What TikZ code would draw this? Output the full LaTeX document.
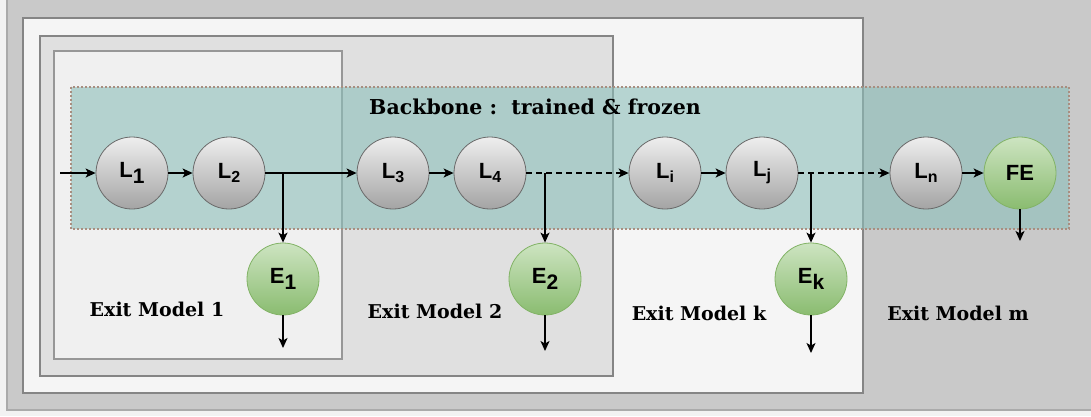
\documentclass[tikz,border=0pt]{standalone}
\usepackage{fontspec}
\setmainfont{DejaVu Serif}
\newfontfamily\circfont{Liberation Sans}
\usetikzlibrary{arrows.meta}

\definecolor{pagebg}{HTML}{F2F2F2}
\definecolor{mfill}{HTML}{C9C9C9}
\definecolor{kfill}{HTML}{F5F5F5}
\definecolor{twofill}{HTML}{E0E0E0}
\definecolor{onefill}{HTML}{F0F0F0}
\definecolor{boxline}{HTML}{858585}
\definecolor{bbfill}{RGB}{140,191,186}
\definecolor{bbline}{HTML}{A88E80}
\definecolor{greytop}{HTML}{EEEEEE}
\definecolor{greybot}{HTML}{A4A4A4}
\definecolor{greyline}{HTML}{6A6A6A}
\definecolor{greentop}{HTML}{CDE4C1}
\definecolor{greenbot}{HTML}{8ABC70}
\definecolor{greenline}{HTML}{82B366}

\tikzset{
  modelbox/.style={draw=boxline, line width=1.2pt},
  layer/.style={circle, minimum size=72pt, inner sep=0pt, draw=greyline,
    line width=0.8pt, top color=greytop, bottom color=greybot,
    font=\circfont\bfseries\fontsize{22}{22}\selectfont},
  exitnode/.style={layer, draw=greenline, top color=greentop, bottom color=greenbot},
  flow/.style={line width=1.4pt, -{Stealth[length=10pt,width=9pt,inset=2.5pt]}},
  dashedflow/.style={flow, dash pattern=on 6pt off 4pt},
  modeltext/.style={font=\bfseries\fontsize{19}{19}\selectfont, inner sep=0pt},
  titletext/.style={font=\bfseries\fontsize{20.5}{20.5}\selectfont, inner sep=0pt}
}

% subscripts: a large one and a small one
\newcommand{\bigsub}[1]{\raisebox{-6pt}{\fontsize{21}{21}\selectfont #1}}
\newcommand{\smallsub}[1]{\raisebox{-4pt}{\fontsize{16}{16}\selectfont #1}}

\begin{document}
\begin{tikzpicture}[x=1pt, y=-1pt]
\useasboundingbox (0,0) rectangle (1091,416);
\fill[pagebg] (0,0) rectangle (1091,416);

% nested exit-model frames
\filldraw[mfill, draw=boxline!70, line width=1.2pt] (7,-5) rectangle (1100,410);
\filldraw[kfill, modelbox] (23,18) rectangle (863,393);
\filldraw[twofill, modelbox] (40,36) rectangle (613,376);
\filldraw[onefill, modelbox, draw=boxline!85] (54,51) rectangle (342,359);

% backbone band
\fill[bbfill, fill opacity=0.6] (71,87) rectangle (1069,229);
\draw[bbline, line width=2pt, dash pattern=on 2pt off 2pt] (71,87) rectangle (1069,229);

\node[titletext] (bbtitle) at (535,107) {Backbone :\ \ trained \& frozen};

% layers
\node[layer] (L1) at (132,173) {L\bigsub{1}};
\node[layer] (L2) at (229,173) {L\smallsub{2}};
\node[layer] (L3) at (393,173) {L\smallsub{3}};
\node[layer] (L4) at (490,173) {L\smallsub{4}};
\node[layer] (Li) at (665,173) {L\smallsub{i}};
\node[layer] (Lj) at (762,173) {L\smallsub{j}};
\node[layer] (Ln) at (926,173) {L\smallsub{n}};
\node[exitnode] (FE) at (1020,173) {FE};

% exits
\node[exitnode] (E1) at (283,279) {E\bigsub{1}};
\node[exitnode] (E2) at (545,279) {E\bigsub{2}};
\node[exitnode] (Ek) at (811,279) {E\bigsub{k}};

% branch points and loose ends
\coordinate (in) at (60,173);
\coordinate (b1) at (283,173);
\coordinate (b2) at (545,173);
\coordinate (bk) at (811,173);
\coordinate (o1) at (283,348);
\coordinate (o2) at (545,351);
\coordinate (ok) at (811,353);
\coordinate (ofe) at (1020,241);

% backbone flow
\draw[flow] (in) -- (L1);
\draw[flow] (L1) -- (L2);
\draw[flow] (L2) -- (L3);
\draw[flow] (L3) -- (L4);
\draw[dashedflow] (L4) -- (Li);
\draw[flow] (Li) -- (Lj);
\draw[dashedflow] (Lj) -- (Ln);
\draw[flow] (Ln) -- (FE);

% exit branches
\draw[flow] (b1) -- (E1);
\draw[flow] (b2) -- (E2);
\draw[flow] (bk) -- (Ek);
\draw[flow] (E1) -- (o1);
\draw[flow] (E2) -- (o2);
\draw[flow] (Ek) -- (ok);
\draw[flow] (FE) -- (ofe);

% labels
\node[modeltext] (m1) at (157,309) {Exit Model 1};
\node[modeltext] (m2) at (435,311) {Exit Model 2};
\node[modeltext] (mk) at (699,313) {Exit Model k};
\node[modeltext] (mm) at (958,313) {Exit Model m};
\end{tikzpicture}
\end{document}
